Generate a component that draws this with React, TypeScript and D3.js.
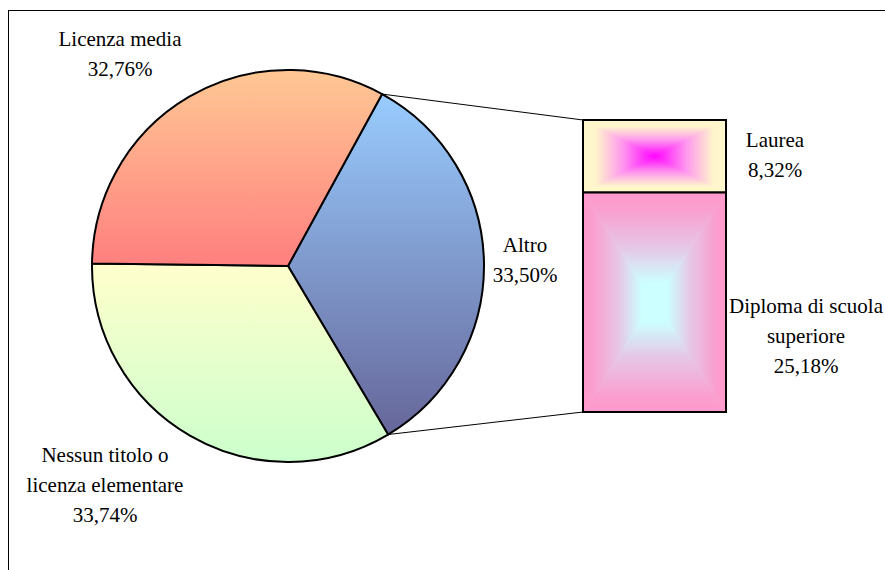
import * as d3 from "d3";

// pie slices, clockwise starting from the exploded "Altro" slice
const pieNames = ["Altro", "Nessun titolo o licenza elementare", "Licenza media"];
const pieValues = [33.5, 33.74, 32.76];
const pieLines = [["Altro", "33,50%"], ["Nessun titolo o", "licenza elementare", "33,74%"], ["Licenza media", "32,76%"]];

// stacked bar breaking down "Altro", top to bottom
const barNames = ["Laurea", "Diploma di scuola superiore"];
const barValues = [8.32, 25.18];
const barLines = [["Laurea", "8,32%"], ["Diploma di scuola", "superiore", "25,18%"]];

const W = 885;
const H = 570;
const cx = 288;
const cy = 266;
const R = 196;
const font = '"Liberation Serif", "Times New Roman", serif';

const sliceGrad = [
  ["#99ccff", "#666699"],
  ["#ffffcc", "#ccffcc"],
  ["#ffc894", "#ff7f7f"],
];
// stops from edge (0) to center (1) for the rectangular gradients
const barGrad = [
  [["#fff8cc", 0], ["#fff5cc", 0.18], ["#ff99ee", 0.55], ["#ff00ff", 1]],
  [["#ff99cc", 0], ["#fa9fcf", 0.15], ["#e6c6e6", 0.5], ["#ccffff", 0.82], ["#ccffff", 1]],
];

const labelPos: Record<string, [number, number]> = {
  "Altro": [525, 252],
  "Nessun titolo o licenza elementare": [105, 462],
  "Licenza media": [120, 46],
  "Laurea": [775, 147],
  "Diploma di scuola superiore": [806, 313],
};

function Label({ name, lines }: { name: string; lines: string[] }) {
  const [x, y] = labelPos[name];
  return (
    <text x={x} y={y} textAnchor="middle" style={{ fontFamily: font, fontSize: "21px" }} fill="#000">
      {lines.map((l, i) => (
        <tspan key={i} x={x} dy={i === 0 ? 0 : 30}>
          {l}
        </tspan>
      ))}
    </text>
  );
}

// rectangular "from centre" gradient, built from four triangles
function RectGradient({ id, x, y, w, h, stops }: any) {
  const mx = x + w / 2;
  const my = y + h / 2;
  const parts = [
    { k: "t", pts: [[x, y], [x + w, y], [mx, my]], g: [mx, y, mx, my] },
    { k: "b", pts: [[x, y + h], [x + w, y + h], [mx, my]], g: [mx, y + h, mx, my] },
    { k: "l", pts: [[x, y], [x, y + h], [mx, my]], g: [x, my, mx, my] },
    { k: "r", pts: [[x + w, y], [x + w, y + h], [mx, my]], g: [x + w, my, mx, my] },
  ];
  return (
    <g>
      <defs>
        {parts.map((p) => (
          <linearGradient
            key={p.k}
            id={`${id}-${p.k}`}
            gradientUnits="userSpaceOnUse"
            x1={p.g[0]}
            y1={p.g[1]}
            x2={p.g[2]}
            y2={p.g[3]}
          >
            {stops.map((s: any, i: number) => (
              <stop key={i} offset={s[1]} stopColor={s[0]} />
            ))}
          </linearGradient>
        ))}
      </defs>
      {parts.map((p) => (
        <polygon
          key={p.k}
          points={p.pts.map((q) => q.join(",")).join(" ")}
          fill={`url(#${id}-${p.k})`}
          stroke={`url(#${id}-${p.k})`}
          strokeWidth={0.6}
        />
      ))}
    </g>
  );
}

export default function App() {
  const total = d3.sum(pieValues);
  const altroSpan = (pieValues[0] / total) * 2 * Math.PI;
  const a0 = (89 * Math.PI) / 180 - altroSpan / 2;
  const arcs = d3
    .pie<number>()
    .sort(null)
    .startAngle(a0)
    .endAngle(a0 + 2 * Math.PI)(pieValues);
  const arc = d3.arc<d3.PieArcDatum<number>>().innerRadius(0).outerRadius(R);

  const barX = 583;
  const barW = 143;
  const barTop = 120;
  const y = d3.scaleLinear().domain([0, d3.sum(barValues)]).range([barTop, 412]);
  const cum = d3.cumsum(barValues);
  const bars = barValues.map((v, i) => ({ y0: y(cum[i] - v), y1: y(cum[i]) }));

  const aStart = arcs[0].startAngle;
  const aEnd = arcs[0].endAngle;
  const pt = (a: number) => [cx + R * Math.sin(a), cy - R * Math.cos(a)];
  const pTop = pt(aStart);
  const pBot = pt(aEnd);

  return (
    <svg width={W} height={H} style={{ position: "absolute", left: 0, top: 0, background: "#fff" }}>
      <defs>
        {sliceGrad.map((g, i) => (
          <linearGradient key={i} id={`slice${i}`} x1="0" y1="0" x2="0" y2="1">
            <stop offset="0" stopColor={g[0]} />
            <stop offset="1" stopColor={g[1]} />
          </linearGradient>
        ))}
      </defs>
      <rect x={8.5} y={10.5} width={W + 20} height={H + 20} fill="none" stroke="#000" strokeWidth={1} />

      <g transform={`translate(${cx},${cy})`}>
        {arcs.map((d, i) => (
          <path key={pieNames[i]} d={arc(d) || ""} fill={`url(#slice${i})`} stroke="#000" strokeWidth={2} strokeLinejoin="round" />
        ))}
      </g>

      <line x1={pTop[0]} y1={pTop[1]} x2={barX} y2={bars[0].y0} stroke="#000" strokeWidth={1} />
      <line x1={pBot[0]} y1={pBot[1]} x2={barX} y2={bars[bars.length - 1].y1} stroke="#000" strokeWidth={1} />

      {bars.map((b, i) => (
        <g key={barNames[i]}>
          <RectGradient id={`bar${i}`} x={barX} y={b.y0} w={barW} h={b.y1 - b.y0} stops={barGrad[i]} />
          <rect x={barX} y={b.y0} width={barW} height={b.y1 - b.y0} fill="none" stroke="#000" strokeWidth={2} />
        </g>
      ))}

      {pieNames.map((n, i) => (
        <Label key={n} name={n} lines={pieLines[i]} />
      ))}
      {barNames.map((n, i) => (
        <Label key={n} name={n} lines={barLines[i]} />
      ))}
    </svg>
  );
}
